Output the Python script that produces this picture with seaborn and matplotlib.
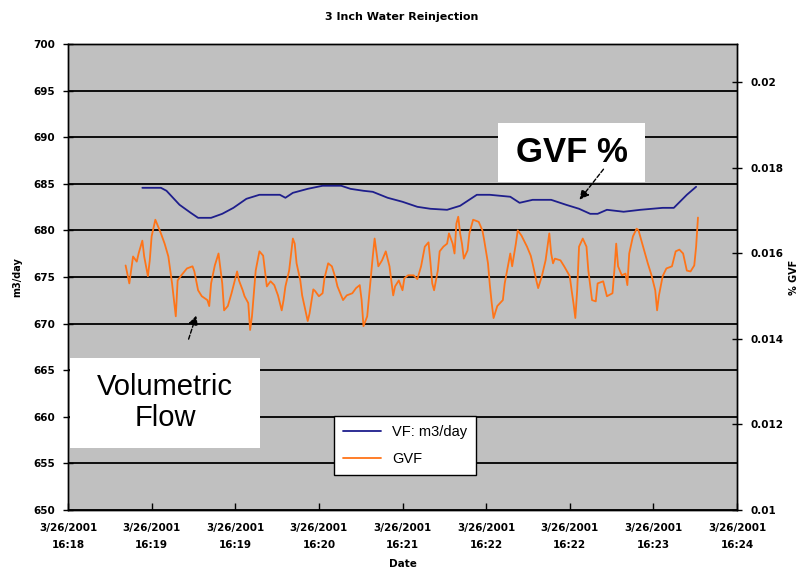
import matplotlib.pyplot as plt
import matplotlib.patches as patches
import numpy as np
import pandas as pd
import seaborn as sns

# time axis in seconds after 3/26/2001 16:18:00
vf_sec = [40, 50, 53, 60, 66, 70, 77, 83, 89, 96, 103, 114, 117, 121, 129, 137, 147, 152, 159, 164,
          172, 180, 188, 195, 204, 211, 220, 227, 238, 243, 250, 260, 268, 275, 281, 285, 290, 299,
          308, 320, 326, 333, 338]
vf_m3day = [684.57, 684.57, 684.25, 682.75, 681.89, 681.35, 681.35, 681.78, 682.42, 683.39, 683.82,
            683.82, 683.50, 684.03, 684.46, 684.79, 684.79, 684.46, 684.25, 684.14, 683.50, 683.07,
            682.53, 682.32, 682.21, 682.64, 683.82, 683.82, 683.61, 682.96, 683.28, 683.28, 682.75,
            682.32, 681.78, 681.78, 682.21, 682.00, 682.21, 682.42, 682.42, 683.82, 684.68]

gvf_sec = [31, 33, 35, 37, 38, 40, 41, 43, 44, 45, 47, 50, 52, 54, 56, 58, 59, 61, 64, 67, 68, 70, 72,
           75, 76, 77, 79, 81, 83, 84, 86, 88, 91, 92, 94, 95, 97, 98, 99, 101, 103, 105, 107, 109,
           111, 113, 115, 116, 117, 119, 121, 122, 123, 125, 126, 129, 130, 132, 133, 135, 137, 138,
           140, 142, 144, 145, 148, 150, 153, 155, 157, 158, 159, 161, 162, 164, 165, 167, 169, 171,
           173, 175, 176, 178, 180, 181, 183, 186, 188, 190, 192, 194, 195, 196, 197, 199, 200, 202,
           204, 205, 207, 208, 209, 210, 211, 212, 213, 215, 216, 218, 221, 223, 224, 226, 227, 228,
           229, 231, 234, 235, 237, 238, 239, 241, 242, 244, 247, 249, 250, 252, 253, 255, 257, 259,
           260, 261, 262, 265, 267, 270, 271, 272, 273, 274, 275, 277, 279, 280, 282, 284, 285, 288,
           290, 293, 294, 295, 296, 298, 300, 301, 302, 304, 306, 307, 309, 312, 314, 316, 317, 318,
           320, 322, 325, 327, 329, 331, 333, 335, 337, 338, 339]
gvf_pct = [0.01572, 0.01530, 0.01593, 0.01581, 0.01600, 0.01630, 0.01593, 0.01547, 0.01584, 0.01640,
           0.01679, 0.01647, 0.01623, 0.01593, 0.01530, 0.01453, 0.01537, 0.01549, 0.01565, 0.01570,
           0.01558, 0.01514, 0.01500, 0.01491, 0.01477, 0.01530, 0.01572, 0.01600, 0.01530, 0.01467,
           0.01477, 0.01507, 0.01558, 0.01537, 0.01514, 0.01500, 0.01484, 0.01421, 0.01453, 0.01560,
           0.01605, 0.01595, 0.01523, 0.01535, 0.01526, 0.01502, 0.01467, 0.01491, 0.01523, 0.01560,
           0.01635, 0.01623, 0.01577, 0.01537, 0.01502, 0.01442, 0.01460, 0.01516, 0.01512, 0.01500,
           0.01507, 0.01542, 0.01577, 0.01570, 0.01542, 0.01523, 0.01491, 0.01502, 0.01507, 0.01519,
           0.01526, 0.01491, 0.01430, 0.01453, 0.01500, 0.01593, 0.01635, 0.01570, 0.01584, 0.01605,
           0.01570, 0.01502, 0.01523, 0.01537, 0.01514, 0.01542, 0.01549, 0.01549, 0.01540, 0.01570,
           0.01616, 0.01626, 0.01581, 0.01530, 0.01514, 0.01560, 0.01605, 0.01616, 0.01623, 0.01647,
           0.01623, 0.01600, 0.01670, 0.01686, 0.01647, 0.01623, 0.01588, 0.01607, 0.01647, 0.01679,
           0.01674, 0.01654, 0.01630, 0.01577, 0.01526, 0.01484, 0.01449, 0.01477, 0.01491, 0.01530,
           0.01577, 0.01600, 0.01570, 0.01623, 0.01654, 0.01642, 0.01616, 0.01595, 0.01577, 0.01537,
           0.01519, 0.01547, 0.01584, 0.01647, 0.01600, 0.01577, 0.01588, 0.01584, 0.01570, 0.01547,
           0.01514, 0.01484, 0.01449, 0.01514, 0.01616, 0.01635, 0.01616, 0.01560, 0.01491, 0.01488,
           0.01530, 0.01535, 0.01500, 0.01507, 0.01560, 0.01623, 0.01570, 0.01549, 0.01553, 0.01526,
           0.01600, 0.01640, 0.01658, 0.01654, 0.01623, 0.01577, 0.01549, 0.01514, 0.01467, 0.01502,
           0.01547, 0.01565, 0.01570, 0.01605, 0.01609, 0.01600, 0.01560, 0.01558, 0.01572, 0.01616,
           0.01684]

xtick_sec = [0, 45, 90, 135, 180, 225, 270, 315, 360]
xtick_labels = ['3/26/2001\n16:18', '3/26/2001\n16:19', '3/26/2001\n16:19', '3/26/2001\n16:20',
                '3/26/2001\n16:21', '3/26/2001\n16:22', '3/26/2001\n16:22', '3/26/2001\n16:23',
                '3/26/2001\n16:24']
left_ticks = [650, 655, 660, 665, 670, 675, 680, 685, 690, 695, 700]
right_ticks = [0.01, 0.012, 0.014, 0.016, 0.018, 0.02]
right_labels = ['0.01', '0.012', '0.014', '0.016', '0.018', '0.02']

sns.set_theme(style='white')
plt.rcParams['font.family'] = ['DejaVu Sans']
plt.rcParams.update({'text.color': 'black', 'axes.labelcolor': 'black',
                     'xtick.color': 'black', 'ytick.color': 'black'})

blue = '#1e1e8c'
orange = '#ff7418'

fig = plt.figure(figsize=(8.04, 5.88), dpi=100)
ax = fig.add_axes([68 / 804, 1 - 510 / 588, 669 / 804, 466 / 588])
ax.set_facecolor('#c0c0c0')
ax2 = ax.twinx()

sns.lineplot(x=vf_sec, y=vf_m3day, ax=ax, color=blue, lw=1.3, estimator=None, legend=False)
sns.lineplot(x=gvf_sec, y=gvf_pct, ax=ax2, color=orange, lw=1.3, estimator=None, legend=False)

ax.set_xlim(0, 360)
ax.set_ylim(650, 700)
ax2.set_ylim(0.01, 0.0209)

ax.set_yticks(left_ticks)
ax.set_yticklabels([str(v) for v in left_ticks], fontsize=7.5, fontweight='bold')
ax2.set_yticks(right_ticks)
ax2.set_yticklabels(right_labels, fontsize=7.5, fontweight='bold')
ax.set_xticks(xtick_sec)
ax.set_xticklabels(xtick_labels, fontsize=7.5, fontweight='bold', linespacing=2.0)

ax.yaxis.grid(True, color='black', lw=1.3)
ax.set_axisbelow(True)

ax.tick_params(axis='y', direction='inout', length=7, width=1, color='black', pad=6, left=True)
ax.tick_params(axis='x', direction='in', length=5, width=1, color='black', pad=9, bottom=True)
ax2.tick_params(axis='y', direction='inout', length=7, width=1, color='black', pad=6, right=True)

for a in (ax, ax2):
    for s in a.spines.values():
        s.set_color('black')
        s.set_linewidth(1.0)

ax.set_xlabel('Date', fontsize=7.5, fontweight='bold', labelpad=6)
ax.set_ylabel('m3/day', fontsize=7, fontweight='bold', labelpad=8)
ax2.set_ylabel('% GVF', fontsize=7, fontweight='bold', labelpad=4, rotation=90)
fig.text(0.5, 1 - 17 / 588, '3 Inch Water Reinjection', ha='center', va='center',
         fontsize=8, fontweight='bold')

# callout boxes
ax2.add_patch(patches.Rectangle((0.643, 0.704), 0.220, 0.127, transform=ax2.transAxes,
                                facecolor='white', edgecolor='none', zorder=5))
ax2.text(0.753, 0.768, 'GVF %', transform=ax2.transAxes, ha='center', va='center',
         fontsize=25, fontweight='bold', family='Liberation Sans', color='black', zorder=6)
ax2.annotate('', xy=(0.762, 0.661), xytext=(0.803, 0.736), xycoords='axes fraction',
             arrowprops=dict(arrowstyle='-|>', color='black', lw=1.0, linestyle=(0, (3, 1.5)),
                             mutation_scale=14), zorder=6)

ax2.add_patch(patches.Rectangle((0.003, 0.133), 0.284, 0.193, transform=ax2.transAxes,
                                facecolor='white', edgecolor='none', zorder=5))
ax2.text(0.145, 0.23, 'Volumetric\nFlow', transform=ax2.transAxes, ha='center', va='center',
         fontsize=21, family='Liberation Sans', color='black', linespacing=1.15, zorder=6)
ax2.annotate('', xy=(0.193, 0.423), xytext=(0.179, 0.361), xycoords='axes fraction',
             arrowprops=dict(arrowstyle='-|>', color='black', lw=1.0, linestyle=(0, (3, 1.5)),
                             mutation_scale=14), zorder=6)

handles = [ax.get_lines()[0], ax2.get_lines()[0]]
leg = ax2.legend(handles, ['VF: m3/day', 'GVF'], loc='center', bbox_to_anchor=(0.504, 0.138),
                 frameon=True, fancybox=False, framealpha=1, edgecolor='black',
                 prop={'family': 'Liberation Sans', 'size': 10.5}, handlelength=2.6,
                 borderpad=0.6, labelspacing=0.9)
leg.get_frame().set_linewidth(1.0)
for t in leg.get_texts():
    t.set_color('black')
leg.set_zorder(7)

fig.savefig('out.png', dpi=100)
